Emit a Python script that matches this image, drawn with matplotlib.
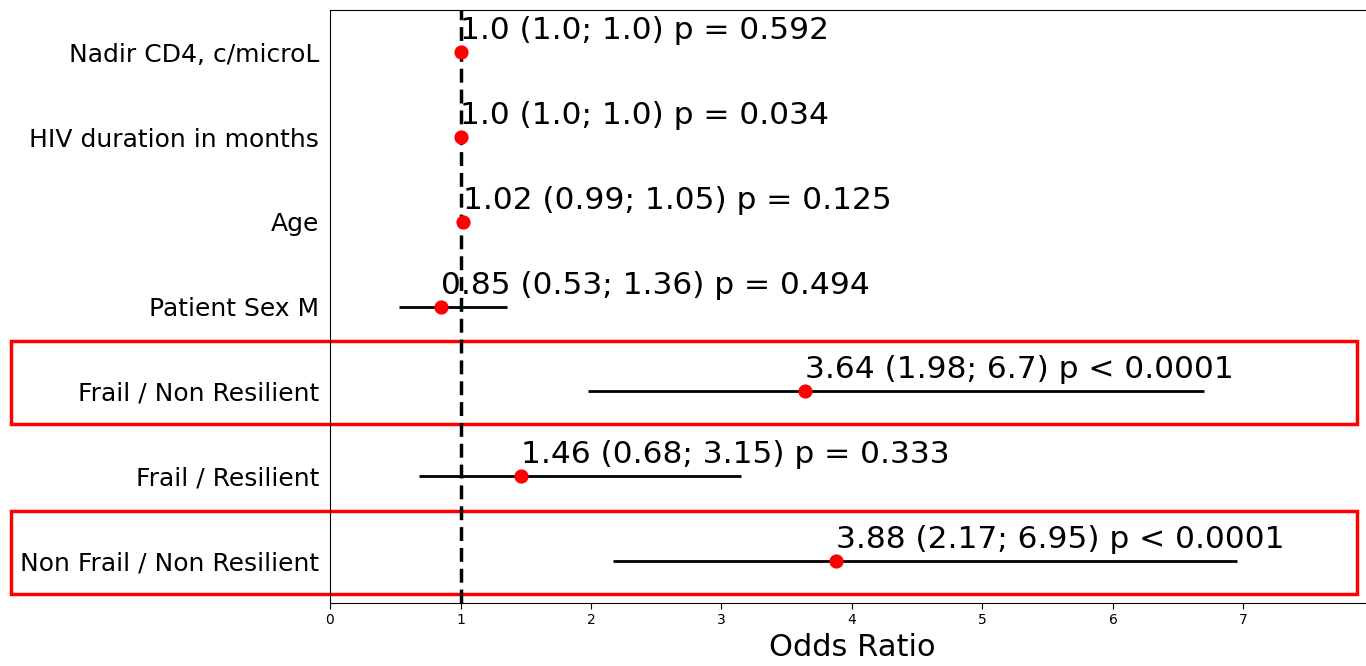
import matplotlib
matplotlib.use("Agg")
import matplotlib.pyplot as plt
import matplotlib.transforms as mtransforms
from matplotlib.patches import Rectangle

# данные (сверху вниз)
labels = ["Nadir CD4, c/microL", "HIV duration in months", "Age", "Patient Sex M",
          "Frail / Non Resilient", "Frail / Resilient", "Non Frail / Non Resilient"]
odds = [1.0, 1.0, 1.02, 0.85, 3.64, 1.46, 3.88]
ci_low = [1.0, 1.0, 0.99, 0.53, 1.98, 0.68, 2.17]
ci_high = [1.0, 1.0, 1.05, 1.36, 6.7, 3.15, 6.95]
p_text = ["= 0.592", "= 0.034", "= 0.125", "= 0.494", "< 0.0001", "= 0.333", "< 0.0001"]
highlight = ["Frail / Non Resilient", "Non Frail / Non Resilient"]

fig = plt.figure(figsize=(13.66, 6.66), dpi=100)
ax = fig.add_axes([330 / 1366, 63 / 666, 1044 / 1366, 593 / 666])

n = len(labels)
ypos = [n - 1 - i for i in range(n)]

ax.hlines(ypos, ci_low, ci_high, color="black", lw=2)
ax.axvline(1, color="black", ls=(0, (4, 2)), lw=2.5, zorder=3)
ax.scatter(odds, ypos, color="red", s=85, zorder=4)

for y, o, lo, hi, p in zip(ypos, odds, ci_low, ci_high, p_text):
    ax.annotate(f"{o} ({lo}; {hi}) p {p}", (o, y), xytext=(0, 5),
                textcoords="offset points", ha="left", va="bottom", fontsize=22.5)

ax.set_yticks(ypos)
ax.set_yticklabels(labels, fontsize=18)
ax.tick_params(axis="y", length=0, pad=8)
ax.tick_params(axis="x", labelsize=10, length=4)
ax.set_xticks(range(8))
ax.set_xlim(0, 8)
ax.set_ylim(-0.5, n - 0.5)
ax.set_xlabel("Odds Ratio", fontsize=22)

# красные рамки вокруг значимых строк
trans = mtransforms.blended_transform_factory(fig.transFigure, ax.transData)
for lab in highlight:
    y = ypos[labels.index(lab)]
    ax.add_patch(Rectangle((11 / 1366, y - 0.39), 1346 / 1366, 0.98, transform=trans,
                           fill=False, edgecolor="red", lw=2.5, clip_on=False))

fig.savefig("out.png", dpi=100)
